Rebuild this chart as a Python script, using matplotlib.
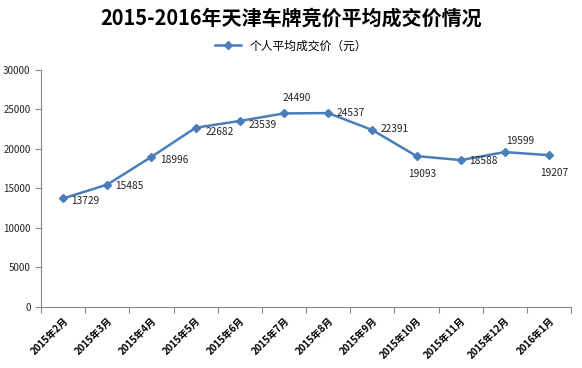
import matplotlib.pyplot as plt

plt.rcParams['font.family'] = ['Noto Sans CJK SC', 'DejaVu Sans']

# 月份与个人平均成交价
months = ['2015年2月', '2015年3月', '2015年4月', '2015年5月', '2015年6月', '2015年7月',
          '2015年8月', '2015年9月', '2015年10月', '2015年11月', '2015年12月', '2016年1月']
prices = [13729, 15485, 18996, 22682, 23539, 24490, 24537, 22391, 19093, 18588, 19599, 19207]

# where each data label sits relative to its point (points)
label_offsets = [(6, -2), (6, -1), (6, -2), (7, -3), (6, -3), (9, 11),
                 (6, 0), (6, 1), (4, -13), (6, -1), (11, 8), (4, -13)]

color = '#4a7ebb'

fig = plt.figure(figsize=(5.82, 3.68), dpi=100)
ax = fig.add_axes([0.0704, 0.166, 0.911, 0.644])

x = list(range(len(months)))
ax.plot(x, prices, color=color, lw=1.8, marker='D', ms=4.5, label='个人平均成交价（元）')

for xi, v, off in zip(x, prices, label_offsets):
    ha = 'left' if off[1] > -10 and off[1] < 5 else 'center'
    ax.annotate(str(v), (xi, v), xytext=off, textcoords='offset points',
                fontsize=7.3, color='#222222', va='center', ha=ha)

ax.set_xlim(-0.5, len(months) - 0.5)
ax.set_ylim(0, 30000)
ax.set_yticks(range(0, 30001, 5000))
ax.tick_params(axis='y', labelsize=7, length=4, color='#888888', labelcolor='#222222')

# category ticks between points
ax.set_xticks([i + 0.5 for i in range(-1, len(months))], minor=False)
ax.set_xticklabels([])
ax.set_xticks(x, minor=True)
ax.set_xticklabels(months, minor=True, rotation=45, ha='right', rotation_mode='anchor',
                   fontsize=7, fontweight='bold')
ax.tick_params(axis='x', which='major', length=4, color='#888888')
ax.tick_params(axis='x', which='minor', length=0, pad=6)

for s in ['top', 'right']:
    ax.spines[s].set_visible(False)
ax.spines['left'].set_color('#888888')
ax.spines['bottom'].set_color('#888888')

fig.suptitle('2015-2016年天津车牌竞价平均成交价情况', x=0.5, y=0.98, fontsize=14.4, fontweight='bold')
fig.legend(loc='center', bbox_to_anchor=(0.5, 0.875), frameon=False, fontsize=8.5,
           handlelength=2.2)

fig.savefig('out.png', dpi=100)
